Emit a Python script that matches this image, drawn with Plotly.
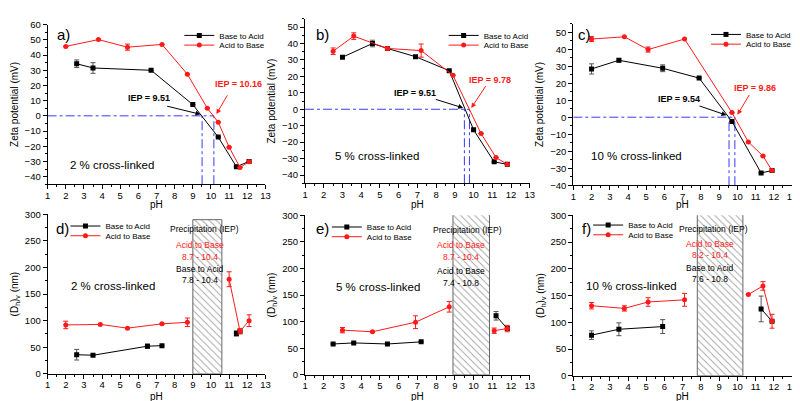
import plotly.graph_objects as go

# ---------------- data ----------------
panels_zeta = ["a", "b", "c"]
panels_dh = ["d", "e", "f"]
labels_crosslink = ["2 % cross-linked", "5 % cross-linked", "10 % cross-linked"]

# Zeta potential (mV) vs pH
ba_ph_a = [2.6, 3.5, 6.7, 9.0, 10.4, 11.4, 12.1]
ba_zeta_a = [34.3, 31.5, 30.0, 7.4, -14.0, -33.5, -30.0]
ba_zerr_a = [2.5, 3.5, 0, 0, 0, 0, 0]
ab_ph_a = [2.0, 3.8, 5.4, 7.3, 8.7, 9.8, 10.4, 11.0, 11.6, 12.1]
ab_zeta_a = [45.7, 50.2, 45.2, 47.0, 27.4, 5.0, -4.2, -20.6, -34.0, -30.2]
ab_zerr_a = [0, 0, 2.0, 0, 0, 0, 0, 0, 0, 1.0]

ba_ph_b = [3.0, 4.6, 5.4, 6.9, 8.7, 10.0, 11.1, 11.8]
ba_zeta_b = [31.7, 40.0, 37.0, 32.0, 23.5, -12.5, -32.0, -33.5]
ba_zerr_b = [0, 2.0, 0, 0, 0, 0, 0, 0]
ab_ph_b = [2.5, 3.6, 5.4, 7.2, 8.9, 10.4, 11.2, 11.8]
ab_zeta_b = [35.3, 44.5, 37.0, 35.7, 20.7, -14.8, -29.4, -33.5]
ab_zerr_b = [2.0, 2.0, 1.0, 4.0, 0, 0, 0, 0]

ba_ph_c = [2.0, 3.5, 5.9, 7.9, 9.7, 11.3, 11.9]
ba_zeta_c = [28.4, 33.5, 28.8, 23.0, -2.5, -32.8, -31.4]
ba_zerr_c = [3.0, 1.0, 2.0, 0, 0, 0, 0]
ab_ph_c = [2.0, 3.8, 5.1, 7.1, 9.7, 10.6, 11.4, 11.9]
ab_zeta_c = [46.0, 47.3, 39.8, 46.0, 2.7, -14.6, -22.8, -31.4]
ab_zerr_c = [1.5, 0, 1.5, 0, 0, 0, 0, 0]

iep_ba = [9.51, 9.51, 9.54]
iep_ab = [10.16, 9.78, 9.86]
iep_ba_text = ["IEP = 9.51", "IEP = 9.51", "IEP = 9.54"]
iep_ab_text = ["IEP = 10.16", "IEP = 9.78", "IEP = 9.86"]

# Hydrodynamic diameter <Dh>v (nm) vs pH (None = gap)
ba_ph_d = [2.6, 3.5, 6.5, 7.3, None, 11.4, 11.6]
ba_dh_d = [36, 35, 52, 53, None, 76, 80]
ba_derr_d = [10, 0, 4, 0, 0, 5, 0]
ab_ph_d = [2.0, 3.9, 5.4, 7.3, 8.7, None, 11.0, 11.6, 12.1]
ab_dh_d = [92, 93, 86, 94, 97, None, 178, 80, 100]
ab_derr_d = [7, 0, 0, 0, 8, 0, 14, 5, 11]

ba_ph_e = [2.5, 3.6, 5.4, 7.2, None, 11.2, 11.8]
ba_dh_e = [58, 60, 58, 62, None, 111, 87]
ba_derr_e = [0, 0, 0, 0, 0, 8, 0]
ab_ph_e = [3.0, 4.6, 6.9, 8.7, None, 11.1, 11.8]
ab_dh_e = [84, 81, 99, 128, None, 83, 87]
ab_derr_e = [5, 0, 12, 10, 0, 5, 6]

ba_ph_f = [2.0, 3.5, 5.9, None, 11.3, 11.9]
ba_dh_f = [76, 87, 92, None, 125, 102]
ba_derr_f = [8, 12, 13, 0, 24, 0]
ab_ph_f = [2.0, 3.8, 5.1, 7.1, None, 10.6, 11.4, 11.9]
ab_dh_f = [131, 126, 138, 142, None, 152, 168, 102]
ab_derr_f = [6, 5, 8, 12, 0, 0, 8, 13]

precip_lo = [9.0, 8.9, 7.8]
precip_hi = [10.6, 10.85, 10.3]
precip_top = [290, 305, 305]
precip_title = "Precipitation (IEP)"
precip_red_label = ["Acid to Base", "Acid to Base", "Acid to Base"]
precip_red_range = ["8.7 - 10.4", "8.7 - 10.4", "8.2 - 10.4"]
precip_blk_label = ["Base to Acid", "Acid to Base", "Base to Acid"]
precip_blk_range = ["7.8 - 10.4", "7.4 - 10.8", "7.6 - 10.8"]

series_names = ["Base to Acid", "Acid to Base"]

zeta_ba = [(ba_ph_a, ba_zeta_a, ba_zerr_a), (ba_ph_b, ba_zeta_b, ba_zerr_b), (ba_ph_c, ba_zeta_c, ba_zerr_c)]
zeta_ab = [(ab_ph_a, ab_zeta_a, ab_zerr_a), (ab_ph_b, ab_zeta_b, ab_zerr_b), (ab_ph_c, ab_zeta_c, ab_zerr_c)]
dh_ba = [(ba_ph_d, ba_dh_d, ba_derr_d), (ba_ph_e, ba_dh_e, ba_derr_e), (ba_ph_f, ba_dh_f, ba_derr_f)]
dh_ab = [(ab_ph_d, ab_dh_d, ab_derr_d), (ab_ph_e, ab_dh_e, ab_derr_e), (ab_ph_f, ab_dh_f, ab_derr_f)]

# ---------------- layout geometry ----------------
W, H = 800, 401
BLACK = "#000000"
RED = "#ff1a1a"
BLUE = "#3a3aff"
FONT = "Arial, Liberation Sans, sans-serif"


def px_x(p):
    return p / W


def px_y(p):
    return 1 - p / H


col_x = [(37, 257), (297, 524), (568, 789)]
top_y = [(11, 175), (5, 174), (10, 176)]
top_range = [[-45, 60], [-45, 55], [-40, 55]]
bot_y = [(206, 370), (207, 371), (207, 372)]
xtitle_y = [196, 393]

fig = go.Figure()
layout = dict(
    width=W, height=H,
    margin=dict(l=0, r=0, t=0, b=0),
    paper_bgcolor="white", plot_bgcolor="white",
    font=dict(family=FONT, color="black", size=10),
    showlegend=True,
)


def xaxis_cfg(col, anchor):
    return dict(
        domain=[px_x(col_x[col][0]), px_x(col_x[col][1])],
        range=[1, 13], tick0=1, dtick=1,
        showline=True, linecolor="black", linewidth=1, mirror=False,
        ticks="outside", ticklen=4, tickwidth=1, tickcolor="black",
        minor=dict(ticks="outside", ticklen=2, dtick=0.5, tick0=1, tickcolor="black"),
        showgrid=False, zeroline=False,
        tickfont=dict(size=9.5),
        ticklabelstandoff=-2,
        anchor=anchor,
    )


def yaxis_cfg(ytop, ybot, rng, dtick, minor_dt, title, anchor):
    return dict(
        domain=[px_y(ybot), px_y(ytop)],
        range=rng, dtick=dtick, tick0=0,
        showline=True, linecolor="black", linewidth=1, mirror=False,
        ticks="outside", ticklen=4, tickwidth=1, tickcolor="black",
        minor=dict(ticks="outside", ticklen=2, dtick=minor_dt, tick0=0, tickcolor="black"),
        showgrid=False, zeroline=False,
        tickfont=dict(size=9.5),
        title=dict(text=title, font=dict(size=10), standoff=4),
        anchor=anchor,
    )


annotations = []
legend_pos = {
    0: (210, 22, 32), 1: (477, 22, 32), 2: (742, 21, 31),
    3: (95, 218, 228), 4: (359, 219, 229), 5: (623, 217, 227),
}
panel_label_pos = [(1.87, 53.6), (1.95, 45.7), (1.61, 48.9), (1.8, 274), (1.91, 276), (1.74, 276)]
crosslink_pos = [(4.53, -32.6), (4.86, -28.2), (4.47, -22.7), (4.6, 164.6), (4.87, 166), (4.19, 167)]
iep_ba_txt_pos = [(6.56, 12.0), (6.85, 9.6), (6.81, 10.8)]
iep_ba_arrow = [((7.5, 6.6), (9.42, 1.0)), ((7.9, 6.3), (9.45, 0.8)), ((7.84, 6.9), (9.4, 1.2))]
iep_ab_txt_pos = [(11.53, 21.1), (10.85, 17.9), (10.97, 17.2)]
iep_ab_arrow = [((10.95, 14.5), (10.3, 1.2)), ((10.7, 15.0), (9.88, 0.8)), ((10.7, 14.0), (10.0, 1.4))]
precip_txt_x = [(9.65, 9.41), (9.67, 9.33), (8.71, 8.5)]
precip_txt_y = [(272.5, 242.7, 220.7, 198, 175.6), (273, 243.8, 221, 195, 172.5), (274.5, 247, 226.7, 202, 181)]


def add_series(data, color, symbol, name, axis_suffix, legend_id):
    xs, ys, errs = data
    err_arr = [e if e else None for e in errs]
    fig.add_trace(go.Scatter(
        x=xs, y=ys, mode="lines+markers", name=name,
        line=dict(color=color, width=1),
        marker=dict(color=color, symbol=symbol, size=5, line=dict(width=0)),
        error_y=dict(type="data", array=err_arr, color="#555555" if color == BLACK else color,
                     thickness=1, width=2.5, visible=True),
        connectgaps=False,
        xaxis="x" + axis_suffix, yaxis="y" + axis_suffix,
        legend=legend_id, showlegend=True,
    ))


def add_legend(idx, which, legend_id):
    tx, y1, y2 = legend_pos[idx]
    ypx = y1 if which == 0 else y2
    layout[legend_id] = dict(
        x=px_x(tx - 40), y=px_y(ypx), xanchor="left", yanchor="middle",
        bgcolor="rgba(0,0,0,0)", borderwidth=0,
        font=dict(size=8, family=FONT), itemwidth=30,
        tracegroupgap=0,
    )


for i in range(6):
    suffix = "" if i == 0 else str(i + 1)
    xname = "xaxis" + suffix
    yname = "yaxis" + suffix
    col = i % 3
    row = i // 3
    layout[xname] = xaxis_cfg(col, "y" + suffix)
    if row == 0:
        ytop, ybot = top_y[col]
        layout[yname] = yaxis_cfg(ytop, ybot, top_range[col], 10, 5,
                                  "Zeta potential (mV)", "x" + suffix)
    else:
        ytop, ybot = bot_y[col]
        layout[yname] = yaxis_cfg(ytop, ybot, [0, 300], 50, 25,
                                  "(D<sub>h</sub>)<sub>v</sub> (nm)", "x" + suffix)

    xr = "x" + suffix
    yr = "y" + suffix

    annotations.append(dict(x=(col_x[col][0] + col_x[col][1]) / 2 / W, y=px_y(xtitle_y[row]),
                            xref="paper", yref="paper", text="pH", showarrow=False,
                            font=dict(size=10, family=FONT, color="black"),
                            xanchor="center", yanchor="middle"))

    if row == 0:
        ymin = top_range[col][0]
        fig.add_trace(go.Scatter(
            x=[1, iep_ab[col], None, iep_ba[col], iep_ba[col], None, iep_ab[col], iep_ab[col]],
            y=[0, 0, None, ymin, 0, None, ymin, 0],
            mode="lines", line=dict(color=BLUE, width=1, dash="dashdot"),
            xaxis=xr, yaxis=yr, showlegend=False, hoverinfo="skip",
        ))
    else:
        lo, hi, top = precip_lo[col], precip_hi[col], precip_top[col]
        fig.add_trace(go.Scatter(
            x=[lo, hi, hi, lo, lo], y=[0, 0, top, top, 0],
            mode="lines", fill="toself",
            fillcolor="white",
            fillpattern=dict(shape="\\", fgcolor="#444444", bgcolor="white", size=5, solidity=0.18),
            line=dict(color="#666666", width=1),
            xaxis=xr, yaxis=yr, showlegend=False, hoverinfo="skip",
        ))

    lg1 = "legend" if i == 0 else "legend" + str(2 * i + 1)
    lg2 = "legend" + str(2 * i + 2)
    if row == 0:
        add_series(zeta_ba[col], BLACK, "square", series_names[0], suffix, lg1)
        add_series(zeta_ab[col], RED, "circle", series_names[1], suffix, lg2)
    else:
        add_series(dh_ba[col], BLACK, "square", series_names[0], suffix, lg1)
        add_series(dh_ab[col], RED, "circle", series_names[1], suffix, lg2)
    add_legend(i, 0, lg1)
    add_legend(i, 1, lg2)

    letter = (panels_zeta + panels_dh)[i] + ")"
    lx, ly = panel_label_pos[i]
    annotations.append(dict(x=lx, y=ly, xref=xr, yref=yr, text=letter, showarrow=False,
                            font=dict(size=15, family=FONT, color="black")))
    cx, cy = crosslink_pos[i]
    annotations.append(dict(x=cx, y=cy, xref=xr, yref=yr, text=labels_crosslink[col], showarrow=False,
                            font=dict(size=11.5, family=FONT, color="black")))

    if row == 0:
        tx, ty = iep_ba_txt_pos[col]
        annotations.append(dict(x=tx, y=ty, xref=xr, yref=yr, text="<b>" + iep_ba_text[col] + "</b>",
                                showarrow=False, font=dict(size=9, family=FONT, color="black")))
        (ax_, ay_), (hx, hy) = iep_ba_arrow[col]
        annotations.append(dict(x=hx, y=hy, ax=ax_, ay=ay_, xref=xr, yref=yr, axref=xr, ayref=yr,
                                text="", showarrow=True, arrowhead=2, arrowsize=1, arrowwidth=1,
                                arrowcolor="black"))
        tx, ty = iep_ab_txt_pos[col]
        annotations.append(dict(x=tx, y=ty, xref=xr, yref=yr, text="<b>" + iep_ab_text[col] + "</b>",
                                showarrow=False, font=dict(size=9, family=FONT, color=RED)))
        (ax_, ay_), (hx, hy) = iep_ab_arrow[col]
        annotations.append(dict(x=hx, y=hy, ax=ax_, ay=ay_, xref=xr, yref=yr, axref=xr, ayref=yr,
                                text="", showarrow=True, arrowhead=2, arrowsize=1, arrowwidth=1,
                                arrowcolor=RED))
    else:
        px0, px1 = precip_txt_x[col]
        ys = precip_txt_y[col]
        items = [(precip_title, px0, ys[0], "black"),
                 (precip_red_label[col], px1, ys[1], RED),
                 (precip_red_range[col], px1, ys[2], RED),
                 (precip_blk_label[col], px1, ys[3], "black"),
                 (precip_blk_range[col], px1, ys[4], "black")]
        for txt, x_, y_, c_ in items:
            annotations.append(dict(x=x_, y=y_, xref=xr, yref=yr, text=txt, showarrow=False,
                                    font=dict(size=8.5, family=FONT, color=c_)))

layout["annotations"] = annotations
fig.update_layout(**layout)
fig.write_html("out.html")
